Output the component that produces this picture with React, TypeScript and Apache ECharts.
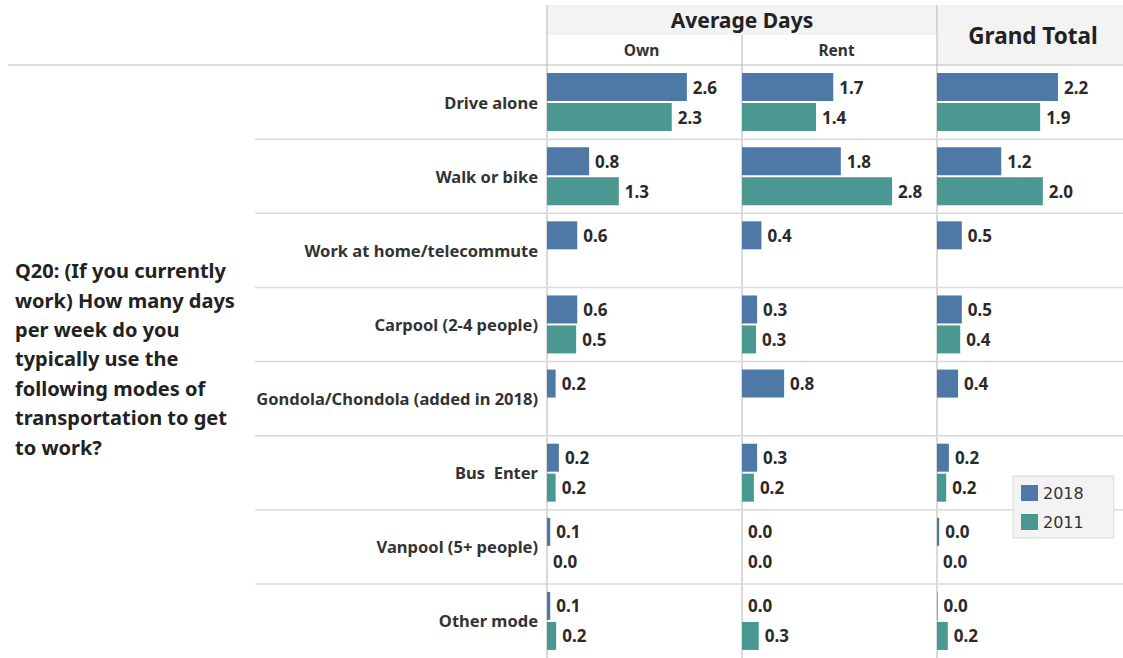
import React, { useEffect, useRef } from "react";
import * as echarts from "echarts";

const categories = [
  "Drive alone",
  "Walk or bike",
  "Work at home/telecommute",
  "Carpool (2-4 people)",
  "Gondola/Chondola (added in 2018)",
  "Bus  Enter",
  "Vanpool (5+ people)",
  "Other mode",
];
const seriesNames = ["2018", "2011"];
const panelNames = ["Own", "Rent", "Grand Total"];

const own2018 = [2.59, 0.78, 0.56, 0.56, 0.16, 0.22, 0.06, 0.06];
const own2011 = [2.31, 1.33, null, 0.54, null, 0.16, 0.0, 0.17];
const rent2018 = [1.69, 1.83, 0.36, 0.28, 0.78, 0.28, 0.0, 0.0];
const rent2011 = [1.37, 2.78, null, 0.26, null, 0.22, 0.0, 0.31];
const total2018 = [2.24, 1.19, 0.46, 0.46, 0.39, 0.22, 0.04, 0.01];
const total2011 = [1.91, 1.96, null, 0.43, null, 0.17, 0.0, 0.2];

const questionLines = [
  "Q20: (If you currently",
  "work) How many days",
  "per week do you",
  "typically use the",
  "following modes of",
  "transportation to get",
  "to work?",
];

const COLORS = ["#4e79a7", "#4a9891"];
const FONT = "'Noto Sans', sans-serif";
const W = 1123;
const H = 658;
const TOP = 65;
const GRID_LEFTS = [547, 742, 937];
const GRID_WIDTHS = [195, 195, 186];
const PX_PER_UNIT = 54;

export default function App() {
  const ref = useRef<HTMLDivElement>(null);
  useEffect(() => {
    document.body.style.margin = "0";
    const chart = echarts.init(ref.current!, null, { renderer: "svg" });
    const gridHeight = H - TOP;
    const rowH = gridHeight / categories.length;
    const panelData = [
      [own2018, own2011],
      [rent2018, rent2011],
      [total2018, total2011],
    ];

    const grids = GRID_LEFTS.map((l, i) => ({
      left: l,
      top: TOP,
      width: GRID_WIDTHS[i],
      height: gridHeight,
      containLabel: false,
    }));
    const xAxes = GRID_LEFTS.map((_, i) => ({
      type: "value",
      gridIndex: i,
      min: 0,
      max: GRID_WIDTHS[i] / PX_PER_UNIT,
      show: false,
    }));
    const yAxes = GRID_LEFTS.map((_, i) => ({
      type: "category",
      gridIndex: i,
      data: categories,
      inverse: true,
      axisLine: { show: false },
      axisTick: { show: false },
      splitLine: { show: false },
      axisLabel: {
        show: i === 0,
        fontFamily: FONT,
        fontSize: 16.5,
        fontWeight: "bold",
        color: "#333",
        margin: 9,
        padding: [0, 0, 3, 0],
      },
    }));
    const series: any[] = [];
    panelData.forEach((pair, gi) => {
      pair.forEach((vals, si) => {
        series.push({
          type: "bar",
          name: seriesNames[si],
          xAxisIndex: gi,
          yAxisIndex: gi,
          data: vals,
          barWidth: 28,
          barGap: "7%",
          itemStyle: { color: COLORS[si] },
          label: {
            show: true,
            position: "right",
            distance: 6,
            fontFamily: FONT,
            fontSize: 17,
            fontWeight: "bold",
            color: "#2a2a2a",
            padding: [0, 0, 5, 0],
            formatter: (p: any) =>
              p.value === null || p.value === undefined ? "" : Number(p.value).toFixed(1),
          },
        });
      });
    });

    const graphics: any[] = [
      { type: "rect", shape: { x: GRID_LEFTS[0], y: 5, width: GRID_LEFTS[2] - GRID_LEFTS[0], height: 30 }, style: { fill: "#f3f3f3" }, z: -10 },
      { type: "rect", shape: { x: GRID_LEFTS[2], y: 5, width: W - GRID_LEFTS[2], height: 60 }, style: { fill: "#f3f3f3" }, z: -10 },
      { type: "line", shape: { x1: 8, y1: TOP, x2: W, y2: TOP }, style: { stroke: "#d2d2d2", lineWidth: 1.5 }, z: -5 },
      { type: "line", shape: { x1: GRID_LEFTS[0], y1: 5, x2: GRID_LEFTS[0], y2: H }, style: { stroke: "#b5b5b5", lineWidth: 1 }, z: -5 },
      { type: "line", shape: { x1: GRID_LEFTS[1], y1: 35, x2: GRID_LEFTS[1], y2: H }, style: { stroke: "#b5b5b5", lineWidth: 1 }, z: -5 },
      { type: "line", shape: { x1: GRID_LEFTS[2], y1: 5, x2: GRID_LEFTS[2], y2: H }, style: { stroke: "#b5b5b5", lineWidth: 1 }, z: -5 },
      {
        type: "text",
        x: (GRID_LEFTS[0] + GRID_LEFTS[2]) / 2,
        y: 19.5,
        style: { text: "Average Days", font: `bold 21px ${FONT}`, fill: "#222", textAlign: "center", textVerticalAlign: "middle" },
      },
      {
        type: "text",
        x: GRID_LEFTS[0] + GRID_WIDTHS[0] / 2 - 3,
        y: 50,
        style: { text: panelNames[0], font: `bold 15.5px ${FONT}`, fill: "#333", textAlign: "center", textVerticalAlign: "middle" },
      },
      {
        type: "text",
        x: GRID_LEFTS[1] + GRID_WIDTHS[1] / 2 - 3,
        y: 50,
        style: { text: panelNames[1], font: `bold 15.5px ${FONT}`, fill: "#333", textAlign: "center", textVerticalAlign: "middle" },
      },
      {
        type: "text",
        x: GRID_LEFTS[2] + (W - GRID_LEFTS[2]) / 2 + 3,
        y: 35,
        style: { text: panelNames[2], font: `bold 22.5px ${FONT}`, fill: "#222", textAlign: "center", textVerticalAlign: "middle" },
      },
      {
        type: "text",
        x: 15,
        y: 256,
        style: {
          text: questionLines.join("\n"),
          font: `bold 20px ${FONT}`,
          lineHeight: 29.4,
          fill: "#222",
          textAlign: "left",
          textVerticalAlign: "top",
        },
      },
    ];
    for (let i = 1; i < categories.length; i++) {
      const y = TOP + i * rowH;
      graphics.push({
        type: "line",
        shape: { x1: 255, y1: y, x2: W, y2: y },
        style: { stroke: "#dadada", lineWidth: 1.5 },
        z: -5,
      });
    }

    chart.setOption({
      animation: false,
      grid: grids,
      xAxis: xAxes,
      yAxis: yAxes,
      series,
      legend: {
        data: seriesNames,
        orient: "vertical",
        left: 1013,
        top: 476,
        icon: "rect",
        itemWidth: 17,
        itemHeight: 16,
        itemGap: 13,
        padding: [9, 30, 8, 8],
        backgroundColor: "#f3f3f3",
        borderColor: "#d9d9d9",
        borderWidth: 1,
        textStyle: { fontFamily: "'DejaVu Sans', sans-serif", fontSize: 16, color: "#333" },
      },
      graphic: graphics,
    });
    return () => chart.dispose();
  }, []);
  return <div ref={ref} style={{ position: "absolute", left: 0, top: 0, width: W, height: H, background: "#fff" }} />;
}
